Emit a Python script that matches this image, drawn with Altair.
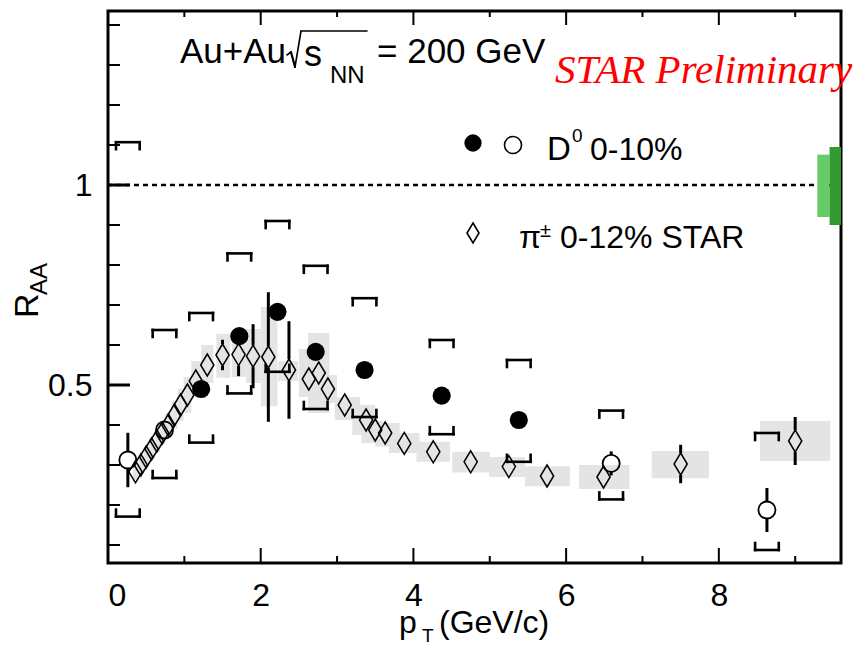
import altair as alt
import pandas as pd

FONT = "Liberation Sans, Arial, sans-serif"
SERIF = "Liberation Serif, Times New Roman, serif"
W, H = 733, 552
X_DOMAIN = [0, 9.6]
Y_DOMAIN = [0.055, 1.435]
PX_PER_Y = H / (Y_DOMAIN[1] - Y_DOMAIN[0])

# ---------------- data ----------------
# D0 R_AA, Au+Au 0-10%, filled symbols
d0_pt = [1.22, 1.72, 2.22, 2.72, 3.36, 4.37, 5.38]
d0_raa = [0.49, 0.622, 0.683, 0.583, 0.5375, 0.4733, 0.4125]
d0_stat = [0.02, 0.02, 0.02, 0.02, 0.02, 0.02, 0.02]
d0_sys_lo = [0.356, 0.479, 0.533, 0.44, 0.42, 0.377, 0.308]
d0_sys_hi = [0.68, 0.829, 0.91, 0.798, 0.717, 0.6125, 0.5625]

# D0 R_AA, Au+Au 0-10%, open symbols
d0o_pt = [0.26, 0.74, 6.59, 8.63]
d0o_raa = [0.3125, 0.3875, 0.304, 0.1875]
d0o_stat = [0.068, 0.015, 0.03, 0.055]
d0o_sys_lo = [0.171, 0.2675, 0.214, 0.0875]
d0o_sys_hi = [1.107, 0.6375, 0.436, 0.38]

# charged pion R_AA, 0-12% STAR
pi_pt = [0.36, 0.43, 0.50, 0.57, 0.64, 0.71, 0.79, 0.87, 0.95, 1.04, 1.15, 1.30,
         1.50, 1.71, 1.90, 2.10, 2.37, 2.63, 2.76, 2.88, 3.10, 3.38, 3.50, 3.63,
         3.88, 4.26, 4.75, 5.25, 5.75, 6.49, 7.50, 9.00]
pi_raa = [0.283, 0.30, 0.32, 0.34, 0.36, 0.38, 0.40, 0.425, 0.45, 0.475, 0.51, 0.55,
          0.575, 0.576, 0.572, 0.57, 0.5375, 0.515, 0.53, 0.49, 0.45, 0.4125, 0.3875, 0.38,
          0.354, 0.333, 0.308, 0.296, 0.2725, 0.27, 0.3025, 0.36]
pi_stat = [0.01, 0.01, 0.01, 0.01, 0.01, 0.01, 0.01, 0.01, 0.01, 0.01, 0.01, 0.01,
           0.038, 0.054, 0.08, 0.162, 0.122, 0.015, 0.015, 0.015, 0.015, 0.015, 0.015, 0.015,
           0.015, 0.015, 0.015, 0.015, 0.015, 0.015, 0.048, 0.06]
pi_sys_lo = [0.262, 0.278, 0.296, 0.315, 0.333, 0.352, 0.37, 0.39, 0.41, 0.43, 0.47, 0.505,
             0.518, 0.52, 0.505, 0.447, 0.51, 0.47, 0.43, 0.455, 0.4125, 0.375, 0.355, 0.346,
             0.33, 0.308, 0.281, 0.27, 0.247, 0.24, 0.267, 0.31]
pi_sys_hi = [0.305, 0.322, 0.344, 0.365, 0.387, 0.408, 0.43, 0.46, 0.49, 0.52, 0.56, 0.60,
             0.628, 0.625, 0.64, 0.695, 0.56, 0.59, 0.63, 0.525, 0.47, 0.45, 0.41, 0.405,
             0.38, 0.358, 0.333, 0.32, 0.297, 0.30, 0.335, 0.41]
pi_bin_lo = [0.33, 0.40, 0.47, 0.54, 0.61, 0.68, 0.75, 0.83, 0.91, 0.99, 1.09, 1.22,
             1.42, 1.62, 1.81, 2.00, 2.23, 2.50, 2.62, 2.80, 2.97, 3.20, 3.32, 3.50,
             3.68, 4.04, 4.51, 4.99, 5.46, 6.17, 7.12, 8.54]
pi_bin_hi = [0.40, 0.47, 0.54, 0.61, 0.68, 0.75, 0.83, 0.91, 0.99, 1.09, 1.22, 1.38,
             1.60, 1.81, 2.00, 2.22, 2.49, 2.68, 2.90, 3.00, 3.30, 3.50, 3.60, 3.82,
             4.08, 4.48, 5.00, 5.46, 6.05, 6.83, 7.87, 9.46]

# normalisation uncertainties around unity
norm_lo = [0.92, 0.90]
norm_hi = [1.076, 1.095]
norm_x0 = [9.29, 9.45]
norm_x1 = [9.45, 9.6]
norm_color = ["#66cc66", "#339933"]

# axis ticks
x_major = [0, 2, 4, 6, 8]
x_minor = [1, 3, 5, 7, 9]
y_major = [0.5, 1.0]
y_minor = [0.1, 0.2, 0.3, 0.4, 0.6, 0.7, 0.8, 0.9, 1.1, 1.2, 1.3, 1.4]

# ---------------- tables ----------------
pions = pd.DataFrame({"pt": pi_pt, "raa": pi_raa, "stat": pi_stat,
                      "lo": pi_sys_lo, "hi": pi_sys_hi, "x0": pi_bin_lo, "x1": pi_bin_hi})
d0f = pd.DataFrame({"pt": d0_pt, "raa": d0_raa, "stat": d0_stat,
                    "lo": d0_sys_lo, "hi": d0_sys_hi})
d0o = pd.DataFrame({"pt": d0o_pt, "raa": d0o_raa, "stat": d0o_stat,
                    "lo": d0o_sys_lo, "hi": d0o_sys_hi})
norm = pd.DataFrame({"x0": norm_x0, "x1": norm_x1, "lo": norm_lo, "hi": norm_hi, "c": norm_color})


def bracket_segments(df, half=0.155, leg_px=7):
    leg = leg_px / PX_PER_Y
    rows = []
    for _, r in df.iterrows():
        a, b = r.pt - half, r.pt + half
        rows += [
            (a, b, r.hi, r.hi), (a, a, r.hi - leg, r.hi), (b, b, r.hi - leg, r.hi),
            (a, b, r.lo, r.lo), (a, a, r.lo, r.lo + leg), (b, b, r.lo, r.lo + leg),
        ]
    return pd.DataFrame(rows, columns=["xa", "xb", "ya", "yb"])


def error_segments(df, gap_px):
    # stat bars are drawn outside the marker only
    gap = gap_px / PX_PER_Y
    rows = []
    for _, r in df.iterrows():
        if r.stat > gap:
            rows.append((r.pt, r.raa + gap, r.raa + r.stat))
            rows.append((r.pt, r.raa - r.stat, r.raa - gap))
    return pd.DataFrame(rows, columns=["xa", "ya", "yb"])


brackets = pd.concat([bracket_segments(d0o), bracket_segments(d0f)], ignore_index=True)
errs = pd.concat([error_segments(pions, 11), error_segments(d0o, 8.5),
                  error_segments(d0f, 9)], ignore_index=True)

xscale = alt.Scale(domain=X_DOMAIN, nice=False, zero=False)
yscale = alt.Scale(domain=Y_DOMAIN, nice=False, zero=False)
xaxis = alt.Axis(values=x_major, format="d", ticks=False, domain=False, grid=False, title=None,
                 labelFont=FONT, labelFontSize=32, labelPadding=17, labelColor="black")
yaxis = alt.Axis(values=y_major, format="~g", ticks=False, domain=False, grid=False, title=None,
                 labelFont=FONT, labelFontSize=32, labelPadding=16, labelColor="black")


def X(f):
    return alt.X(f"{f}:Q", scale=xscale, axis=xaxis)


def Y(f):
    return alt.Y(f"{f}:Q", scale=yscale, axis=yaxis)


# ---------------- layers ----------------
sys_boxes = alt.Chart(pions).mark_rect(color="#e4e4e4").encode(
    x=X("x0"), x2="x1", y=Y("lo"), y2="hi")

unity = alt.Chart(pd.DataFrame({"one": [1.0]})).mark_rule(
    color="black", strokeWidth=2.4, strokeDash=[5, 4]).encode(y=Y("one"))

norm_boxes = alt.Chart(norm).mark_rect().encode(
    x=X("x0"), x2="x1", y=Y("lo"), y2="hi", color=alt.Color("c:N", scale=None))

bracket_layer = alt.Chart(brackets).mark_rule(
    color="black", strokeWidth=2.6, strokeCap="square").encode(
    x=X("xa"), x2="xb", y=Y("ya"), y2="yb")

err_layer = alt.Chart(errs).mark_rule(color="black", strokeWidth=3).encode(
    x=X("xa"), y=Y("ya"), y2="yb")

DIAMOND = "M0,-1L0.6,0L0,1L-0.6,0Z"
pion_pts = alt.Chart(pions).mark_point(
    shape=DIAMOND, size=484, filled=False, stroke="black", strokeWidth=1.5, opacity=1).encode(
    x=X("pt"), y=Y("raa"))

open_pts = alt.Chart(d0o).mark_point(
    shape="circle", size=290, filled=False, stroke="black", strokeWidth=1.8, opacity=1).encode(
    x=X("pt"), y=Y("raa"))

filled_pts = alt.Chart(d0f).mark_point(
    shape="circle", size=330, filled=True, color="black", opacity=1).encode(
    x=X("pt"), y=Y("raa"))


def xticks(vals, y0, y1, w):
    return alt.Chart(pd.DataFrame({"t": vals})).mark_rule(color="black", strokeWidth=w).encode(
        x=X("t"), y=alt.value(y0), y2=alt.value(y1))


def yticks(vals, length, w):
    return alt.Chart(pd.DataFrame({"t": vals})).mark_rule(color="black", strokeWidth=w).encode(
        y=Y("t"), x=alt.value(0), x2=alt.value(length))


ticks = [
    xticks(x_major, H, H - 15, 2), xticks(x_minor, H, H - 7, 2),
    xticks(x_major[1:], 0, 14, 2), xticks(x_minor, 0, 6, 2),
    yticks(y_major, 22, 3), yticks(y_minor, 12, 2),
]

one = pd.DataFrame({"k": [0]})


def note(text, x, y, size, font=FONT, angle=0, color="black", style=None):
    kw = dict(text=text, fontSize=size, font=font, align="left", baseline="alphabetic",
              angle=angle, color=color)
    if style:
        kw["fontStyle"] = style
    return alt.Chart(one).mark_text(**kw).encode(x=alt.value(x), y=alt.value(y))


def stroke(x0, y0, x1, y1, w=1.6):
    return alt.Chart(one).mark_rule(color="black", strokeWidth=w, strokeCap="round").encode(
        x=alt.value(x0), y=alt.value(y0), x2=alt.value(x1), y2=alt.value(y1))


def symbol(shape, x, y, size, filled):
    if filled:
        m = alt.Chart(one).mark_point(shape=shape, size=size, filled=True, color="black", opacity=1)
    else:
        m = alt.Chart(one).mark_point(shape=shape, size=size, filled=False, stroke="black",
                                      strokeWidth=1.6, opacity=1)
    return m.encode(x=alt.value(x), y=alt.value(y))


# radical sign over s_NN
radical = [
    stroke(179, 44, 183, 41),
    stroke(183, 41, 187, 56, 2.2),
    stroke(187, 56, 193, 20),
    stroke(193, 20, 259, 20),
]

texts = [
    note("Au+Au", 72, 52, 35),
    *radical,
    note("s", 196, 55, 36),
    note("NN", 222, 72, 24),
    note("= 200 GeV", 269, 52, 35),
    note("STAR Preliminary", 447, 72, 41, font=SERIF, color="#ff0000", style="italic"),
    symbol("circle", 365, 132, 300, True),
    symbol("circle", 405, 134, 290, False),
    note("D", 439, 149, 33),
    note("0", 464, 131, 19),
    note("0-10%", 482, 149, 32),
    symbol(DIAMOND, 365, 222, 400, False),
    note("\u03c0", 411, 237, 32),
    note("\u00b1", 432, 226, 20),
    note("0-12% STAR", 452, 237, 32),
    note("p", 291, 622, 32),
    note("T", 314, 631, 19),
    note("(GeV/c)", 331, 622, 32),
    note("R", -70, 307, 34, angle=270),
    note("AA", -61, 284, 24, angle=270),
]

chart = alt.layer(
    sys_boxes, unity, norm_boxes, bracket_layer, err_layer,
    pion_pts, open_pts, filled_pts, *ticks, *texts
).properties(
    width=W, height=H,
    padding={"left": 108, "top": 11, "right": 21, "bottom": 82},
    autosize=alt.AutoSizeParams(type="none"),
).configure_view(stroke="black", strokeWidth=3)

chart.save("out.html", embed_options={"renderer": "svg", "actions": False})
